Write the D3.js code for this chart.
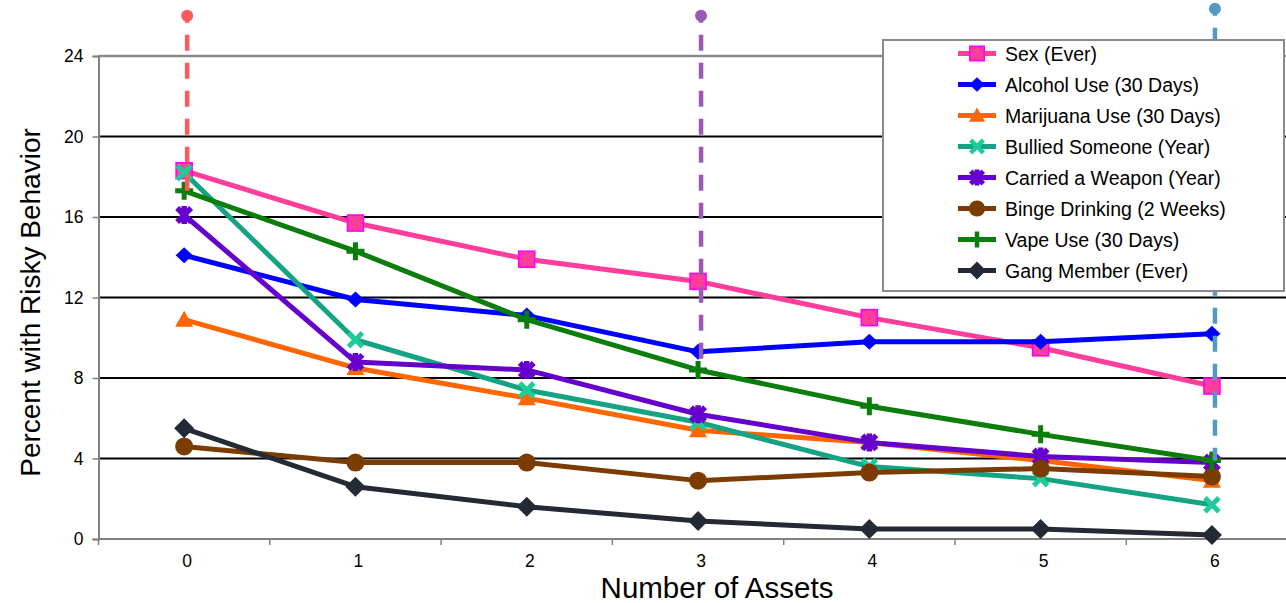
<!DOCTYPE html>
<html>
<head>
<meta charset="utf-8">
<script src="https://cdn.jsdelivr.net/npm/d3@7"></script>
<style>
  html, body { margin: 0; padding: 0; background: #fff; }
  svg { display: block; font-family: "Liberation Sans", Arial, sans-serif; }
</style>
</head>
<body>
<svg id="chart" width="1286" height="603"></svg>
<script>
// Number of developmental assets (x categories)
const categories = ["0", "1", "2", "3", "4", "5", "6"];

// Percent with each risky behavior, by number of assets
const sexEver      = [18.3, 15.7, 13.9, 12.8, 11.0, 9.5, 7.6];
const alcohol30    = [14.1, 11.9, 11.1, 9.3, 9.8, 9.8, 10.2];
const marijuana30  = [10.9, 8.5, 7.0, 5.4, 4.8, 3.9, 2.9];
const bulliedYear  = [18.2, 9.9, 7.4, 5.8, 3.6, 3.0, 1.7];
const weaponYear   = [16.1, 8.8, 8.4, 6.2, 4.8, 4.1, 3.8];
const binge2Weeks  = [4.6, 3.8, 3.8, 2.9, 3.3, 3.5, 3.1];
const vape30       = [17.3, 14.3, 10.9, 8.4, 6.6, 5.2, 3.9];
const gangEver     = [5.5, 2.6, 1.6, 0.9, 0.5, 0.5, 0.2];

const seriesNames = [
  "Sex (Ever)", "Alcohol Use (30 Days)", "Marijuana Use (30 Days)",
  "Bullied Someone (Year)", "Carried a Weapon (Year)", "Binge Drinking (2 Weeks)",
  "Vape Use (30 Days)", "Gang Member (Ever)"
];
const seriesValues = [sexEver, alcohol30, marijuana30, bulliedYear, weaponYear, binge2Weeks, vape30, gangEver];

// Y axis tick labels
const yTicks = [0, 4, 8, 12, 16, 20, 24];

// Dashed marker lines: category, top value, and the series they drop to
const dropCategories = ["0", "3", "6"];
const dropTops = [26.0, 26.0, 26.35];

// ---- styling ----
const lineColors   = ["#ff3d9a", "#0000ff", "#ff6600", "#14a383", "#6600cc", "#7a3c00", "#0a7d0a", "#232a35"];
const markerFill   = ["#ff3d9a", "#0000ff", "#ff6600", "#1fcc99", "#6600cc", "#7a3c00", "#0a7d0a", "#232a35"];
const markerKinds  = ["square", "diamond", "triangle", "x", "star", "circle", "plus", "bigdiamond"];
const dropColors   = ["#ff5a5a", "#9b59b6", "#5499c2"];

const svg = d3.select("#chart");

const plotLeft = 98.5, plotTop = 56, plotBottom = 539;
const band = 171.3;

const x = d3.scaleBand()
  .domain(categories)
  .range([plotLeft, plotLeft + band * categories.length])
  .paddingInner(0).paddingOuter(0);
const cx = c => x(c) + x.bandwidth() / 2;

const y = d3.scaleLinear().domain([0, 24]).range([plotBottom, plotTop]);

// gridlines
const gridG = svg.append("g");
yTicks.forEach(v => {
  if (v === 0) return;
  gridG.append("line")
    .attr("x1", plotLeft).attr("x2", 1286)
    .attr("y1", y(v)).attr("y2", y(v))
    .attr("stroke", v === 24 ? "#8a8a8a" : "#000")
    .attr("stroke-width", v === 24 ? 2.4 : 1.8);
});

// y axis
const yAxis = svg.append("g")
  .attr("transform", `translate(${plotLeft},0)`)
  .call(d3.axisLeft(y).tickValues(yTicks).tickSize(6).tickPadding(9).tickFormat(d3.format("d")));
yAxis.select(".domain").attr("stroke", "#808080").attr("stroke-width", 2);
yAxis.selectAll(".tick line").attr("stroke", "#808080").attr("stroke-width", 1.5);
yAxis.selectAll(".tick text").attr("font-size", 17.5).attr("fill", "#000")
  .attr("font-family", "Liberation Sans, Arial, sans-serif");

// x axis
const xAxis = svg.append("g")
  .attr("transform", `translate(0,${plotBottom})`)
  .call(d3.axisBottom(x).tickSize(0).tickPadding(16));
xAxis.select(".domain").remove();
xAxis.selectAll(".tick text").attr("font-size", 17.5).attr("fill", "#000")
  .attr("font-family", "Liberation Sans, Arial, sans-serif")
  .attr("dx", 3);
svg.append("line")
  .attr("x1", plotLeft).attr("x2", 1286)
  .attr("y1", plotBottom).attr("y2", plotBottom)
  .attr("stroke", "#808080").attr("stroke-width", 2);
// boundary tick marks between categories
categories.forEach(c => {
  svg.append("line")
    .attr("x1", x(c)).attr("x2", x(c))
    .attr("y1", plotBottom).attr("y2", plotBottom + 6)
    .attr("stroke", "#808080").attr("stroke-width", 1.5);
});

// axis titles
svg.append("text")
  .attr("transform", `translate(40,${(plotTop + plotBottom) / 2 + 5}) rotate(-90)`)
  .attr("text-anchor", "middle")
  .attr("font-size", 28).attr("fill", "#000")
  .text("Percent with Risky Behavior");
svg.append("text")
  .attr("x", 717).attr("y", 598)
  .attr("text-anchor", "middle")
  .attr("font-size", 29.5).attr("fill", "#000")
  .text("Number of Assets");

// marker drawing
function drawMarker(g, kind, px, py, i, scale = 1) {
  const s = scale;
  const fill = markerFill[i];
  switch (kind) {
    case "square":
      g.append("rect").attr("x", px - 8 * s).attr("y", py - 8 * s)
        .attr("width", 16 * s).attr("height", 16 * s)
        .attr("fill", fill).attr("stroke", "#ff00ff").attr("stroke-width", 1.6);
      break;
    case "diamond":
      g.append("path")
        .attr("d", `M${px},${py - 8 * s}L${px + 8.5 * s},${py}L${px},${py + 8 * s}L${px - 8.5 * s},${py}Z`)
        .attr("fill", fill);
      break;
    case "bigdiamond":
      g.append("path")
        .attr("d", `M${px},${py - 10 * s}L${px + 10 * s},${py}L${px},${py + 10 * s}L${px - 10 * s},${py}Z`)
        .attr("fill", fill);
      break;
    case "triangle":
      g.append("path")
        .attr("d", `M${px},${py - 9 * s}L${px + 9 * s},${py + 7 * s}L${px - 9 * s},${py + 7 * s}Z`)
        .attr("fill", fill);
      break;
    case "circle":
      g.append("circle").attr("cx", px).attr("cy", py).attr("r", 9 * s).attr("fill", fill);
      break;
    case "x":
      g.append("path")
        .attr("d", `M${px - 7 * s},${py - 7 * s}L${px + 7 * s},${py + 7 * s}M${px + 7 * s},${py - 7 * s}L${px - 7 * s},${py + 7 * s}`)
        .attr("stroke", fill).attr("stroke-width", 5 * s).attr("fill", "none");
      break;
    case "star":
      g.append("path")
        .attr("d", `M${px - 7 * s},${py - 7 * s}L${px + 7 * s},${py + 7 * s}M${px + 7 * s},${py - 7 * s}L${px - 7 * s},${py + 7 * s}M${px},${py - 9 * s}L${px},${py + 9 * s}`)
        .attr("stroke", fill).attr("stroke-width", 5.5 * s).attr("fill", "none");
      break;
    case "plus":
      g.append("path")
        .attr("d", `M${px - 9 * s},${py}L${px + 9 * s},${py}M${px},${py - 9 * s}L${px},${py + 9 * s}`)
        .attr("stroke", fill).attr("stroke-width", 5 * s).attr("fill", "none");
      break;
  }
}

// series lines and markers
const line = d3.line().x((d, j) => cx(categories[j])).y(d => y(d));
const seriesG = svg.append("g");
seriesValues.forEach((vals, i) => {
  const g = seriesG.append("g");
  g.append("path").datum(vals)
    .attr("d", line)
    .attr("fill", "none")
    .attr("stroke", lineColors[i])
    .attr("stroke-width", 5)
    .attr("stroke-linejoin", "round");
  vals.forEach((v, j) => drawMarker(g, markerKinds[i], cx(categories[j]), y(v), i));
});

// dashed drop lines from the top marker dots down to the vape series
const dropG = svg.append("g");
dropCategories.forEach((c, k) => {
  const j = categories.indexOf(c);
  const px = cx(c) + 3;
  const yTop = y(dropTops[k]);
  const yEnd = y(vape30[j]);
  dropG.append("line")
    .attr("x1", px).attr("x2", px)
    .attr("y1", yTop).attr("y2", yEnd)
    .attr("stroke", dropColors[k]).attr("stroke-width", 4.5)
    .attr("stroke-dasharray", "16,12").attr("stroke-dashoffset", 9);
  dropG.append("circle")
    .attr("cx", px).attr("cy", yTop).attr("r", 6)
    .attr("fill", dropColors[k]);
});

// legend
const lg = svg.append("g");
lg.append("rect")
  .attr("x", 883).attr("y", 40).attr("width", 401).attr("height", 251)
  .attr("fill", "#fff").attr("stroke", "#8a8a8a").attr("stroke-width", 2);
seriesNames.forEach((name, i) => {
  const ry = 53.5 + i * 31;
  lg.append("line")
    .attr("x1", 958).attr("x2", 996).attr("y1", ry).attr("y2", ry)
    .attr("stroke", lineColors[i]).attr("stroke-width", 5);
  drawMarker(lg, markerKinds[i], 977, ry, i, 0.9);
  lg.append("text")
    .attr("x", 1005).attr("y", ry + 7)
    .attr("font-size", 19.5).attr("fill", "#000")
    .text(name);
});
</script>
</body>
</html>
